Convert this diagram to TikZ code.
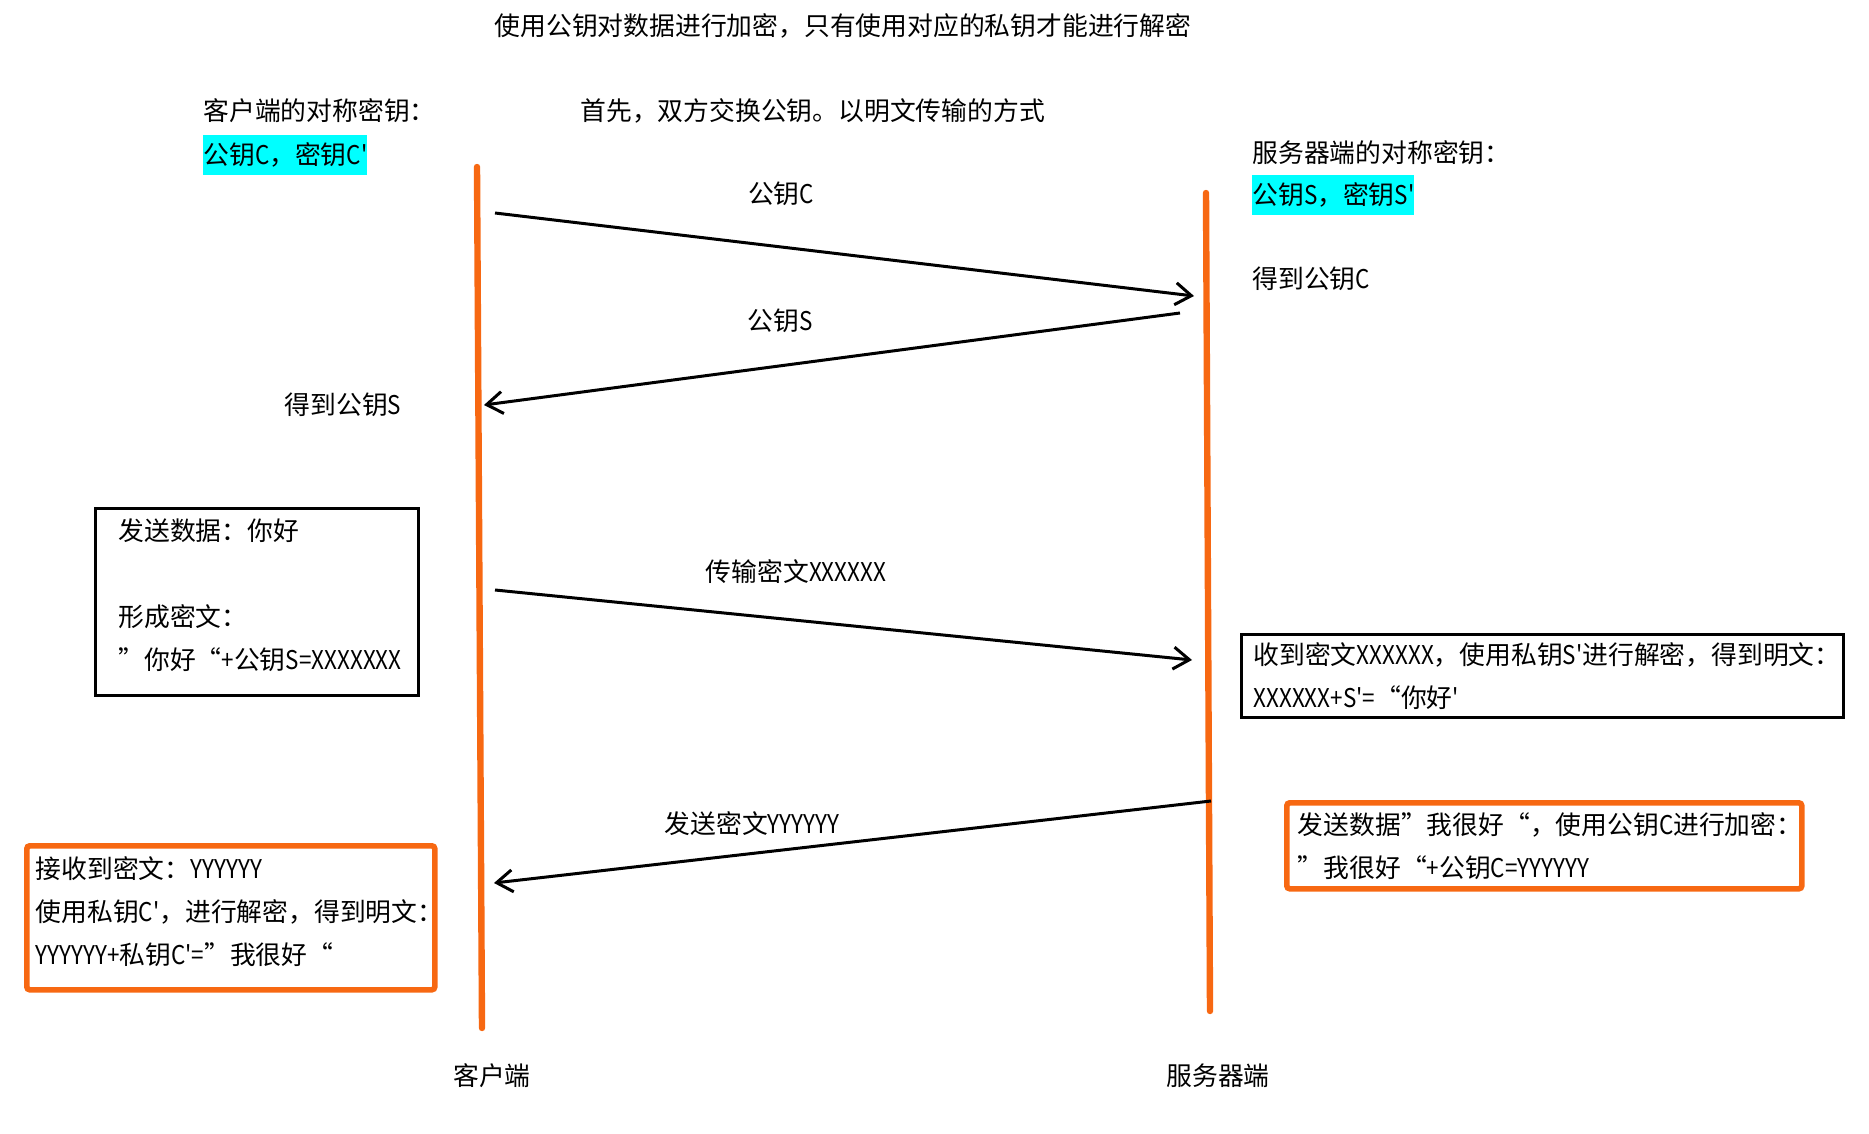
\documentclass[tikz,border=0pt]{standalone}
\usepackage{fontspec}
\newfontfamily\cjk{Noto Sans CJK SC}
\newfontfamily\latfont{Noto Sans CJK SC}[FakeStretch=0.87]
\newcommand\lat[1]{{\latfont #1}}
\usetikzlibrary{arrows.meta,positioning,calc}
\definecolor{lineorange}{RGB}{247,104,18}
\definecolor{keycyan}{RGB}{0,255,255}

\begin{document}
\begin{tikzpicture}[x=0.5pt, y=-0.5pt,
    every node/.style={font=\cjk\fontsize{12.9pt}{21.5pt}\selectfont, inner sep=0pt},
    lifeline/.style={draw=lineorange, line width=3.2pt, line cap=round},
    msg/.style={-{Straight Barb[length=8pt,width=11pt]}, line width=1.5pt},
    keybox/.style={fill=keycyan, minimum height=20pt, anchor=north west},
    notebox/.style={draw, line width=1.5pt, align=left, anchor=north west},
    replybox/.style={draw=lineorange, line width=2.8pt, rounded corners=1.5pt, align=left, anchor=north west}]
    \useasboundingbox (0,0) rectangle (1869,1134);

    \node (title) at (843,26) {使用公钥对数据进行加密，只有使用对应的私钥才能进行解密};
    \node[anchor=west] (exchange) at (580,111) {首先，双方交换公钥。以明文传输的方式};
    \node[anchor=west] (clienthead) at (203,111) {客户端的对称密钥：};
    \node[keybox] (clientkey) at (203,135) {公钥\lat{C}，密钥\lat{C'}};
    \node[anchor=west] (serverhead) at (1252,153) {服务器端的对称密钥：};
    \node[keybox] (serverkey) at (1252,175) {公钥\lat{S}，密钥\lat{S'}};
    \node[anchor=west] (servergot) at (1252,279) {得到公钥\lat{C}};
    \node (clientgot) at (343,405) {得到公钥\lat{S}};

    \coordinate (ctop) at (477,167);
    \coordinate (cbot) at (482,1028);
    \coordinate (stop) at (1206,193);
    \coordinate (sbot) at (1210,1011);
    \draw[lifeline] (ctop) -- (cbot);
    \draw[lifeline] (stop) -- (sbot);
    \node (client) at (492,1076) {客户端};
    \node (server) at (1218,1076) {服务器端};

    \coordinate (m1s) at (495,213);
    \coordinate (m1e) at (1194,296);
    \coordinate (m2s) at (1180,313);
    \coordinate (m2e) at (484,405);
    \coordinate (m3s) at (495,590);
    \coordinate (m3e) at (1192,660);
    \coordinate (m4s) at (1211,801);
    \coordinate (m4e) at (494,883);
    \draw[msg] (m1s) -- (m1e);
    \draw[msg] (m2s) -- (m2e);
    \draw[msg] (m3s) -- (m3e);
    \draw[msg] (m4s) -- (m4e);
    \node (pubc) at (781,194) {公钥\lat{C}};
    \node (pubs) at (780,321) {公钥\lat{S}};
    \node (cipherx) at (796,572) {传输密文\lat{XXXXXX}};
    \node (ciphery) at (752,824) {发送密文\lat{YYYYYY}};

    \node[notebox, text width=138.5pt, inner xsep=11.5pt, minimum height=93.5pt] (sendbox) at (94,507)
      {发送数据：你好\\[21.5pt]形成密文：\\”你好“\lat{+}公钥\lat{S=XXXXXXX}\\[-14pt]\mbox{}};
    \node[notebox, text width=289pt, inner xsep=6pt, minimum height=41.5pt] (decryptbox) at (1240,633)
      {收到密文\lat{XXXXXX}，使用私钥\lat{S'}进行解密，得到明文：\\\lat{XXXXXX+S'=}“你好\lat{'}};
    \node[replybox, text width=195pt, inner xsep=4.5pt, minimum height=72pt] (receivebox) at (24,843)
      {接收到密文：\lat{YYYYYY}\\使用私钥\lat{C'}，进行解密，得到明文：\\\lat{YYYYYY+}私钥\lat{C'=}”我很好“\\[-14pt]\mbox{}};
    \node[replybox, text width=246.5pt, inner xsep=5.5pt, minimum height=43pt] (replybox) at (1284,800)
      {发送数据”我很好“，使用公钥\lat{C}进行加密：\\”我很好“\lat{+}公钥\lat{C=YYYYYY}};
\end{tikzpicture}
\end{document}
